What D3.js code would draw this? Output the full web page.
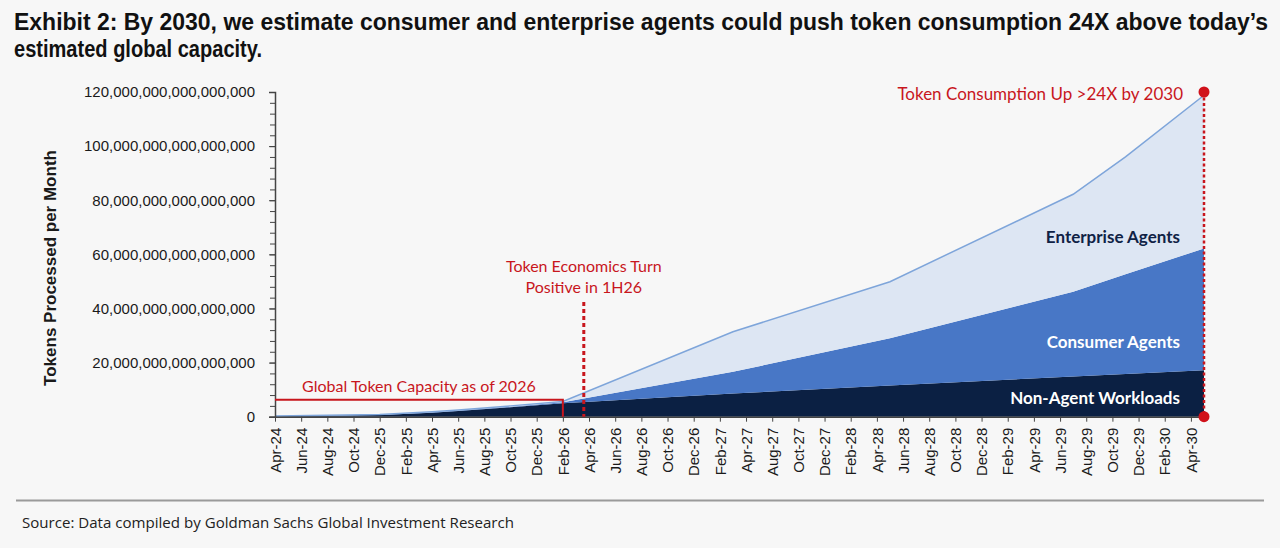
<!DOCTYPE html>
<html>
<head>
<meta charset="utf-8">
<script src="https://cdn.jsdelivr.net/npm/d3@7"></script>
<style>
  body { margin: 0; background: #f7f7f7; }
  svg { display: block; }
</style>
</head>
<body>
<section></section>
<script>
// Category labels of the x axis, as printed in the exhibit
var categorias = ["Apr-24", "Jun-24", "Aug-24", "Oct-24", "Dec-25", "Feb-25", "Apr-25", "Jun-25",
    "Aug-25", "Oct-25", "Dec-25", "Feb-26", "Apr-26", "Jun-26", "Aug-26", "Oct-26", "Dec-26",
    "Feb-27", "Apr-27", "Aug-27", "Oct-27", "Dec-27", "Feb-28", "Apr-28", "Jun-28", "Aug-28",
    "Oct-28", "Dec-28", "Feb-29", "Apr-29", "Jun-29", "Aug-29", "Oct-29", "Dec-29", "Feb-30", "Apr-30"]

// Where each estimate sits on the category axis (0 = Apr-24 ... 35 = Apr-30, 35.5 = last month)
var posiciones = [0, 2, 4, 6, 7, 9, 11, 17.5, 23.5, 30.5, 32.5, 35.5]

// Tokens processed per month, in units of 10^15
var nonAgent   = [0.2, 0.4, 0.6, 1.5, 2.1, 3.5, 5.0, 8.6, 11.5, 14.9, 15.8, 17.2]
var consumer   = [0.05, 0.05, 0.1, 0.1, 0.15, 0.2, 0.3, 8.0, 17.5, 31.3, 36.8, 45.0]
var enterprise = [0.05, 0.05, 0.1, 0.2, 0.25, 0.3, 0.3, 14.8, 20.9, 36.0, 43.4, 56.6]

var yTicks = [0, 20, 40, 60, 80, 100, 120]
var unidad = 1e15

// Annotations
var capacidad2026 = 6.3   // global token capacity as of 2026
var finCapacidad = 11     // Feb-26
var giroPositivo = 11.8   // 1H26

var width = 1280
var height = 548

var svg = d3.select("section")
    .append("svg")
    .attr("width", width)
    .attr("height", height)
    .style("background", "#f7f7f7")

var x = d3.scaleLinear()
    .domain([0, 35.5])
    .range([275, 1204])

var y = d3.scaleLinear()
    .domain([0, 120])
    .range([416.7, 92])

// Rows for the stack
var filas = posiciones.map(function (p, i) {
    return { pos: p, nonAgent: nonAgent[i], consumer: consumer[i], enterprise: enterprise[i] }
})

var series = d3.stack()
    .keys(["nonAgent", "consumer", "enterprise"])(filas)

var colores = { nonAgent: "#0b2043", consumer: "#4877c6", enterprise: "#dde6f3" }

var area = d3.area()
    .x(function (d) { return x(d.data.pos) })
    .y0(function (d) { return y(d[0]) })
    .y1(function (d) { return y(d[1]) })

svg.append("g")
    .selectAll("path")
    .data(series)
    .join("path")
    .attr("d", area)
    .attr("fill", function (d) { return colores[d.key] })

// thin line on top of the total
var linea = d3.line()
    .x(function (d) { return x(d.data.pos) })
    .y(function (d) { return y(d[1]) })

svg.append("path")
    .datum(series[2])
    .attr("d", linea)
    .attr("fill", "none")
    .attr("stroke", "#7ea5da")
    .attr("stroke-width", 1.5)

// Y axis, minor ticks first
svg.append("g")
    .attr("transform", "translate(" + x(0) + ",0)")
    .call(d3.axisLeft(y).tickValues(d3.range(0, 121, 4)).tickSize(5).tickFormat(""))
    .call(function (g) { g.select(".domain").remove() })
    .selectAll("line").attr("stroke", "#444")

var ejeY = svg.append("g")
    .attr("transform", "translate(" + x(0) + ",0)")
    .call(d3.axisLeft(y)
        .tickValues(yTicks)
        .tickSize(6)
        .tickPadding(14)
        .tickFormat(function (d) { return d3.format(",.0f")(d * unidad) }))

ejeY.select(".domain").attr("stroke", "#444").attr("stroke-width", 1.5)
ejeY.selectAll("line").attr("stroke", "#444")
ejeY.selectAll("text")
    .attr("font-family", "Liberation Sans, Arial, sans-serif")
    .attr("font-size", 15)
    .attr("fill", "#1a1a1a")

// X axis
var ejeX = svg.append("g")
    .attr("transform", "translate(0," + y(0) + ")")
    .call(d3.axisBottom(x)
        .tickValues(d3.range(categorias.length))
        .tickSize(5)
        .tickSizeOuter(0)
        .tickFormat(function (i) { return categorias[i] }))

ejeX.select(".domain").attr("stroke", "#444").attr("stroke-width", 1.5)
ejeX.selectAll("line").attr("stroke", "#444")
ejeX.selectAll("text")
    .attr("font-family", "Liberation Sans, Arial, sans-serif")
    .attr("font-size", 15)
    .attr("fill", "#1a1a1a")
    .attr("transform", "rotate(-90)")
    .attr("text-anchor", "end")
    .attr("x", -11)
    .attr("y", 0)
    .attr("dy", "0.35em")

// Y axis title
svg.append("text")
    .attr("transform", "translate(56,268) rotate(-90)")
    .attr("text-anchor", "middle")
    .attr("font-family", "Liberation Sans, Arial, sans-serif")
    .attr("font-weight", "bold")
    .attr("font-size", 17)
    .attr("fill", "#1a1a1a")
    .text("Tokens Processed per Month")

var rojo = "#c8161d"

// Capacity bracket
svg.append("path")
    .attr("d", "M" + x(0) + "," + y(capacidad2026) + "H" + x(finCapacidad) + "V" + y(0))
    .attr("fill", "none")
    .attr("stroke", rojo)
    .attr("stroke-width", 2)

svg.append("text")
    .attr("x", (x(0) + x(finCapacidad)) / 2)
    .attr("y", 391.5)
    .attr("text-anchor", "middle")
    .attr("font-family", "Lato, sans-serif")
    .attr("font-size", 16)
    .attr("fill", rojo)
    .text("Global Token Capacity as of 2026")

// Token economics turn positive
svg.append("line")
    .attr("x1", x(giroPositivo)).attr("x2", x(giroPositivo))
    .attr("y1", 302).attr("y2", y(0))
    .attr("stroke", rojo)
    .attr("stroke-width", 3)
    .attr("stroke-dasharray", "4,3")

svg.append("text")
    .attr("x", x(giroPositivo))
    .attr("y", 272)
    .attr("text-anchor", "middle")
    .attr("font-family", "Lato, sans-serif")
    .attr("font-size", 16)
    .attr("fill", rojo)
    .text("Token Economics Turn")

svg.append("text")
    .attr("x", x(giroPositivo))
    .attr("y", 292.5)
    .attr("text-anchor", "middle")
    .attr("font-family", "Lato, sans-serif")
    .attr("font-size", 16)
    .attr("fill", rojo)
    .text("Positive in 1H26")

// Up >24X marker
var ultimo = filas.length - 1
var total = nonAgent[ultimo] + consumer[ultimo] + enterprise[ultimo]

svg.append("line")
    .attr("x1", x(posiciones[ultimo])).attr("x2", x(posiciones[ultimo]))
    .attr("y1", y(120)).attr("y2", y(0))
    .attr("stroke", rojo)
    .attr("stroke-width", 2.5)
    .attr("stroke-dasharray", "3,2.5")

svg.selectAll("circle.marca")
    .data([120, 0])
    .join("circle")
    .attr("class", "marca")
    .attr("cx", x(posiciones[ultimo]))
    .attr("cy", function (d) { return y(d) })
    .attr("r", 5.5)
    .attr("fill", "#d0121b")

svg.append("text")
    .attr("x", 1183)
    .attr("y", 100)
    .attr("text-anchor", "end")
    .attr("font-family", "Lato, sans-serif")
    .attr("font-size", 17)
    .attr("fill", rojo)
    .text("Token Consumption Up >24X by 2030")

// Layer labels
var etiquetas = [
    { texto: "Enterprise Agents", y: 243, color: "#0f2245" },
    { texto: "Consumer Agents", y: 348, color: "#ffffff" },
    { texto: "Non-Agent Workloads", y: 404, color: "#ffffff" }
]

svg.selectAll("text.capa")
    .data(etiquetas)
    .join("text")
    .attr("class", "capa")
    .attr("x", 1180)
    .attr("y", function (d) { return d.y })
    .attr("text-anchor", "end")
    .attr("font-family", "Lato, sans-serif")
    .attr("font-weight", "bold")
    .attr("font-size", 17)
    .attr("fill", function (d) { return d.color })
    .text(function (d) { return d.texto })

// Title
svg.append("text")
    .attr("x", 14)
    .attr("y", 30)
    .attr("font-family", "Liberation Sans Narrow, Liberation Sans, sans-serif")
    .attr("font-weight", "bold")
    .attr("font-size", 23)
    .attr("fill", "#111")
    .attr("textLength", 1254)
    .attr("lengthAdjust", "spacingAndGlyphs")
    .text("Exhibit 2: By 2030, we estimate consumer and enterprise agents could push token consumption 24X above today\u2019s")

svg.append("text")
    .attr("x", 14)
    .attr("y", 57)
    .attr("font-family", "Liberation Sans Narrow, Liberation Sans, sans-serif")
    .attr("font-weight", "bold")
    .attr("font-size", 23)
    .attr("fill", "#111")
    .attr("textLength", 248)
    .attr("lengthAdjust", "spacingAndGlyphs")
    .text("estimated global capacity.")

// Footer
svg.append("line")
    .attr("x1", 16).attr("x2", 1264)
    .attr("y1", 500.5).attr("y2", 500.5)
    .attr("stroke", "#9a9a9a")
    .attr("stroke-width", 2)

svg.append("text")
    .attr("x", 22)
    .attr("y", 528)
    .attr("font-family", "Open Sans, sans-serif")
    .attr("font-size", 15)
    .attr("fill", "#222")
    .attr("textLength", 492)
    .attr("lengthAdjust", "spacingAndGlyphs")
    .text("Source: Data compiled by Goldman Sachs Global Investment Research")
</script>
</body>
</html>
